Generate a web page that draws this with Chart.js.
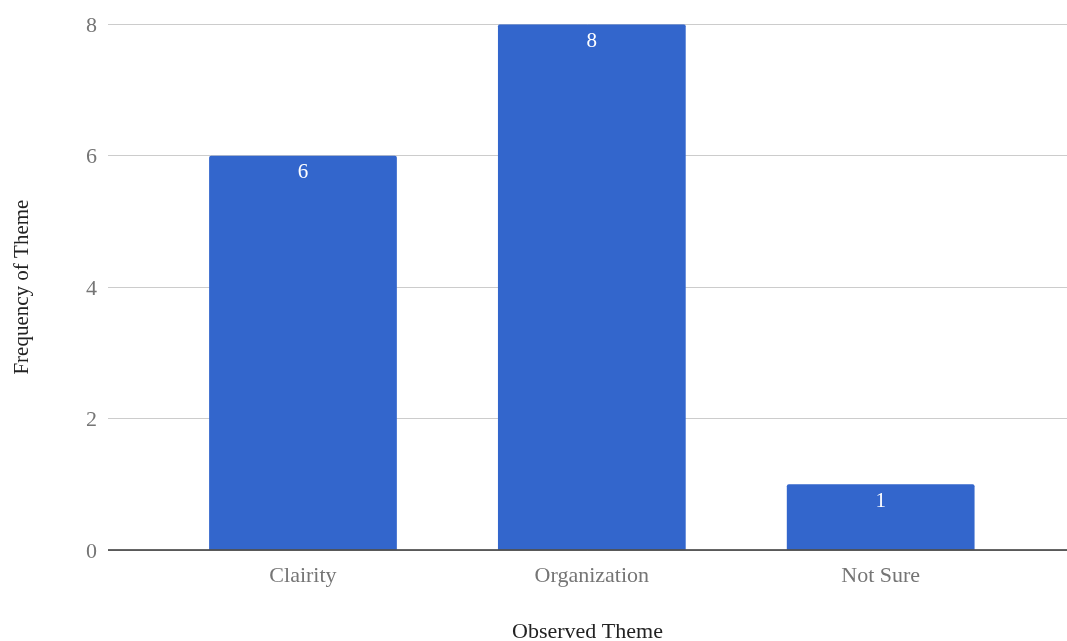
<!DOCTYPE html>
<html>
<head>
<meta charset="utf-8">
<script src="https://cdn.jsdelivr.net/npm/chart.js@4"></script>
<style>
  html, body { margin: 0; padding: 0; background: #fff; }
  #wrap { width: 1067px; height: 641px; }
</style>
</head>
<body>
<div id="wrap"><canvas id="themeChart" width="1067" height="641"></canvas></div>
<script>
// Theme counts
const categories = ['Clairity', 'Organization', 'Not Sure'];
const frequency = [6, 8, 1];
const yTicks = [0, 2, 4, 6, 8];

const FONT = "'Liberation Serif', 'Times New Roman', serif";

// Value labels drawn inside the top of each bar
const barLabels = {
  id: 'barLabels',
  afterDatasetsDraw(chart) {
    const { ctx } = chart;
    const meta = chart.getDatasetMeta(0);
    ctx.save();
    ctx.fillStyle = '#ffffff';
    ctx.font = '21px ' + FONT;
    ctx.textAlign = 'center';
    ctx.textBaseline = 'middle';
    meta.data.forEach((bar, i) => {
      ctx.fillText(String(frequency[i]), bar.x, bar.y + 17);
    });
    ctx.restore();
  }
};

// Dark baseline on the zero line
const baseline = {
  id: 'baseline',
  afterDatasetsDraw(chart) {
    const { ctx, chartArea } = chart;
    const y = chart.scales.y.getPixelForValue(0);
    ctx.save();
    ctx.strokeStyle = '#333333';
    ctx.lineWidth = 1.5;
    ctx.beginPath();
    ctx.moveTo(chartArea.left, y);
    ctx.lineTo(chartArea.right, y);
    ctx.stroke();
    ctx.restore();
  }
};

const ctx = document.getElementById('themeChart').getContext('2d');
new Chart(ctx, {
  type: 'bar',
  data: {
    datasets: [{
      label: 'Frequency of Theme',
      data: frequency.map((v, i) => ({ x: i, y: v })),
      backgroundColor: '#3366cc',
      borderRadius: { topLeft: 2, topRight: 2 },
      borderSkipped: 'bottom',
      barPercentage: 0.65,
      categoryPercentage: 1
    }]
  },
  options: {
    responsive: false,
    animation: false,
    layout: { padding: { top: 23, right: 0, left: 0, bottom: 0 } },
    plugins: {
      legend: { display: false },
      tooltip: { enabled: false }
    },
    scales: {
      x: {
        type: 'linear',
        offset: false,
        min: -0.675,
        max: 2.645,
        afterBuildTicks(scale) {
          scale.ticks = categories.map((c, i) => ({ value: i }));
        },
        grid: { display: false, drawTicks: false, offset: false },
        border: { display: false },
        ticks: {
          color: '#757575',
          font: { family: FONT, size: 22 },
          padding: 13,
          autoSkip: false,
          maxRotation: 0,
          callback: (v) => categories[v]
        },
        title: {
          display: true,
          text: 'Observed Theme',
          color: '#222222',
          font: { family: FONT, size: 22 },
          padding: { top: 4, bottom: -4 }
        },
        afterFit(scale) { scale.height = 91; }
      },
      y: {
        min: 0,
        max: 8,
        afterBuildTicks(scale) {
          scale.ticks = yTicks.map(v => ({ value: v }));
        },
        grid: { color: '#cccccc', lineWidth: 1, drawTicks: false },
        border: { display: false },
        ticks: {
          color: '#757575',
          font: { family: FONT, size: 22 },
          padding: 11,
          labelOffset: 2
        },
        title: {
          display: true,
          text: 'Frequency of Theme',
          color: '#222222',
          font: { family: FONT, size: 21 },
          padding: { top: 10, bottom: 0 }
        },
        afterFit(scale) { scale.width = 108; }
      }
    }
  },
  plugins: [barLabels, baseline]
});
</script>
</body>
</html>
